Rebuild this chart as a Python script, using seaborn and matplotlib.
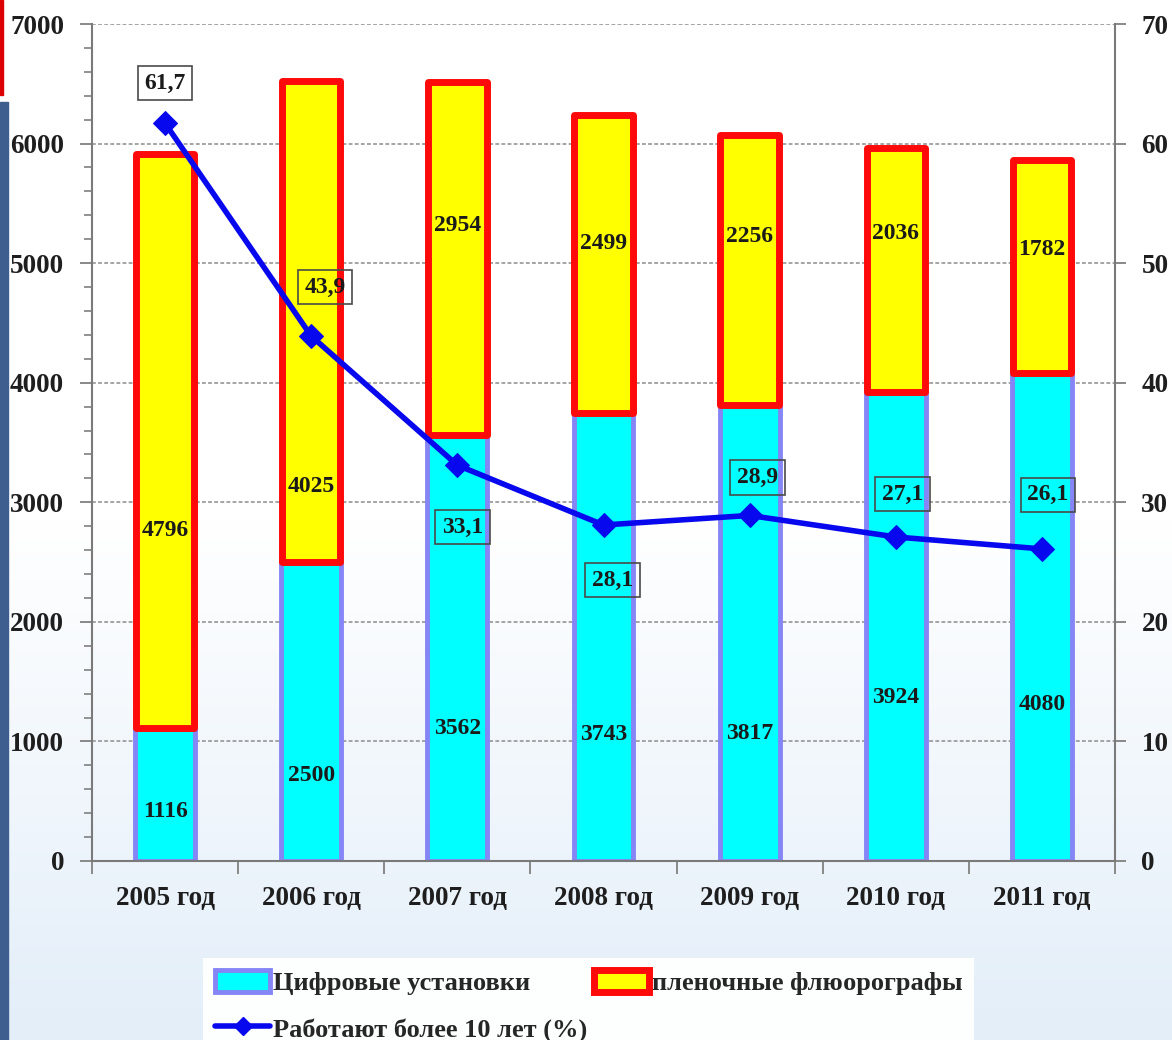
import numpy as np
import pandas as pd
import matplotlib
matplotlib.use("Agg")
import matplotlib.pyplot as plt
import seaborn as sns
from matplotlib.colors import LinearSegmentedColormap
from matplotlib.ticker import MultipleLocator, FixedLocator, NullFormatter, FixedFormatter
from matplotlib.patches import Rectangle
from matplotlib.lines import Line2D
from matplotlib.patches import Patch

# ---- data ----
years = ["2005 год", "2006 год", "2007 год", "2008 год", "2009 год", "2010 год", "2011 год"]
digital = [1116, 2500, 3562, 3743, 3817, 3924, 4080]
film = [4796, 4025, 2954, 2499, 2256, 2036, 1782]
older_pct = [61.7, 43.9, 33.1, 28.1, 28.9, 27.1, 26.1]
older_labels = ["61,7", "43,9", "33,1", "28,1", "28,9", "27,1", "26,1"]

# label placement (annotation layout)
digital_label_y = [418, 719, 1112, 1062, 1070, 1371, 1305]
film_label_y = [2768, 3128, 5311, 5168, 5219, 5244, 5118]
pct_label_offsets = [(0, 40), (14, 49), (5, -62), (9, -55), (8, 38), (7, 43), (6, 54)]

sns.set_theme(style="white")
serif = ["Liberation Serif", "DejaVu Serif"]
plt.rcParams["font.family"] = serif
plt.rcParams["font.weight"] = "bold"

W, H = 1172, 1040
fig = plt.figure(figsize=(W / 100, H / 100), dpi=100)

# background gradient
bg = fig.add_axes([0, 0, 1, 1], zorder=-10)
grad = np.linspace(0, 1, 256).reshape(-1, 1)
cmap = LinearSegmentedColormap.from_list("bg", ["#ffffff", "#ffffff", "#e3eef9"])
bg.imshow(grad, aspect="auto", cmap=cmap, extent=[0, 1, 0, 1], origin="upper")
bg.set_axis_off()

# slide decorations on the left edge
fig.patches.append(Rectangle((0, 1 - 95 / H), 3 / W, 95 / H, transform=fig.transFigure,
                             color="#dd0000", zorder=5))
fig.patches.append(Rectangle((0, 0), 7.5 / W, (H - 102) / H, transform=fig.transFigure,
                             color="#3d5e8e", zorder=5))

ax = fig.add_axes([92 / W, 1 - 861 / H, (1115 - 92) / W, (861 - 24) / H])
ax.set_facecolor("none")
ax.set_axisbelow(True)

df = pd.DataFrame({"year": years, "digital": digital, "film": film})

cyan_face, cyan_edge = "#00ffff", "#8585f5"
yel_face, red_edge = "#ffff00", "#ff0a0a"

sns.barplot(data=df, x="year", y="digital", order=years, ax=ax, color=cyan_face,
            saturation=1, edgecolor=cyan_edge, linewidth=3.5, width=0.41, errorbar=None)
sns.barplot(data=df, x="year", y="film", order=years, ax=ax, color=yel_face,
            saturation=1, edgecolor=red_edge, linewidth=5, width=0.40, errorbar=None,
            bottom=df["digital"].values)
for p in ax.patches:
    p.set_joinstyle("round")

ax.set_xlim(-0.5, len(years) - 0.5)
ax.set_ylim(0, 7000)
ax.set_xlabel("")
ax.set_ylabel("")

tick_fs = 19.5

# y axis
ax.yaxis.set_major_locator(MultipleLocator(1000))
ax.yaxis.set_minor_locator(MultipleLocator(200))
ax.yaxis.grid(True, which="major", linestyle=(0, (2.5, 1.5)), color="#8c8c8c", linewidth=1.1)
ax.tick_params(axis="y", which="major", direction="out", length=9, width=1.3, color="#808080",
               labelsize=tick_fs, pad=11, labelcolor="#1e1e1e", left=True)
ax.tick_params(axis="y", which="minor", direction="out", length=6, width=1.2, color="#808080", left=True)

# x axis: ticks at boundaries, labels at centres
xpos = np.arange(len(years))
ax.xaxis.set_major_locator(FixedLocator(np.arange(len(years) + 1) - 0.5))
ax.xaxis.set_major_formatter(NullFormatter())
ax.xaxis.set_minor_locator(FixedLocator(xpos))
ax.xaxis.set_minor_formatter(FixedFormatter(years))
ax.tick_params(axis="x", which="major", direction="out", length=9, width=1.3, color="#808080", bottom=True)
ax.tick_params(axis="x", which="minor", length=0, labelsize=tick_fs, pad=18, labelcolor="#1e1e1e", bottom=True)
for lab in ax.get_yticklabels() + ax.xaxis.get_minorticklabels():
    lab.set_fontweight("bold")

for s in ["left", "bottom"]:
    ax.spines[s].set_color("#7a7a7a")
    ax.spines[s].set_linewidth(1.5)
ax.spines["top"].set_visible(False)
ax.spines["right"].set_visible(False)

# bar value labels
val_fs = 17
for i in range(len(years)):
    ax.text(xpos[i], digital_label_y[i], str(digital[i]), ha="center", va="center",
            fontsize=val_fs, fontweight="bold", color="#1a1a1a")
    ax.text(xpos[i], film_label_y[i], str(film[i]), ha="center", va="center",
            fontsize=val_fs, fontweight="bold", color="#1a1a1a")

# secondary axis with line
ax2 = ax.twinx()
ax2.set_facecolor("none")
line_color = "#0808ee"
sns.lineplot(x=xpos, y=older_pct, ax=ax2, color=line_color, linewidth=4, marker="D",
             markersize=12, markeredgecolor=line_color, markerfacecolor=line_color)
ax2.set_ylim(0, 70)
ax2.set_xlim(-0.5, len(years) - 0.5)
ax2.yaxis.set_major_locator(MultipleLocator(10))
ax2.tick_params(axis="y", which="major", direction="out", length=8, width=1.3, color="#808080",
                labelsize=tick_fs, pad=11, labelcolor="#1e1e1e", right=True)
for lab in ax2.get_yticklabels():
    lab.set_fontweight("bold")
ax2.set_ylabel("")
for s in ["left", "top", "bottom"]:
    ax2.spines[s].set_visible(False)
ax2.spines["right"].set_color("#7a7a7a")
ax2.spines["right"].set_linewidth(1.5)
ax2.grid(False)

for i in range(len(years)):
    dx, dy = pct_label_offsets[i]
    ax2.annotate(older_labels[i], (xpos[i], older_pct[i]), xytext=(dx, dy),
                 textcoords="offset pixels", ha="center", va="center",
                 fontsize=val_fs, fontweight="bold", color="#1a1a1a",
                 bbox=dict(boxstyle="square,pad=0.28", facecolor="none", edgecolor="#4a4a4a", linewidth=1.2))

# legend
handles = [
    Patch(facecolor=cyan_face, edgecolor=cyan_edge, linewidth=3.5),
    Line2D([0], [0], color=line_color, linewidth=4, marker="D", markersize=9),
    Patch(facecolor=yel_face, edgecolor=red_edge, linewidth=5),
]
labels = ["Цифровые установки", "Работают более 10 лет (%)", "пленочные флюорографы"]
leg = fig.legend(handles, labels, loc="upper left", bbox_to_anchor=(203 / W, 1 - 958 / H),
                 ncol=2, frameon=True, fancybox=False, facecolor="#fdfefe", edgecolor="none",
                 framealpha=1, prop={"family": serif, "weight": "bold", "size": 19},
                 handlelength=2.1, handleheight=0.9, handletextpad=0.1, columnspacing=0.25,
                 labelspacing=0.8, borderpad=0.45, borderaxespad=0)

fig.savefig("out.png", dpi=100)
